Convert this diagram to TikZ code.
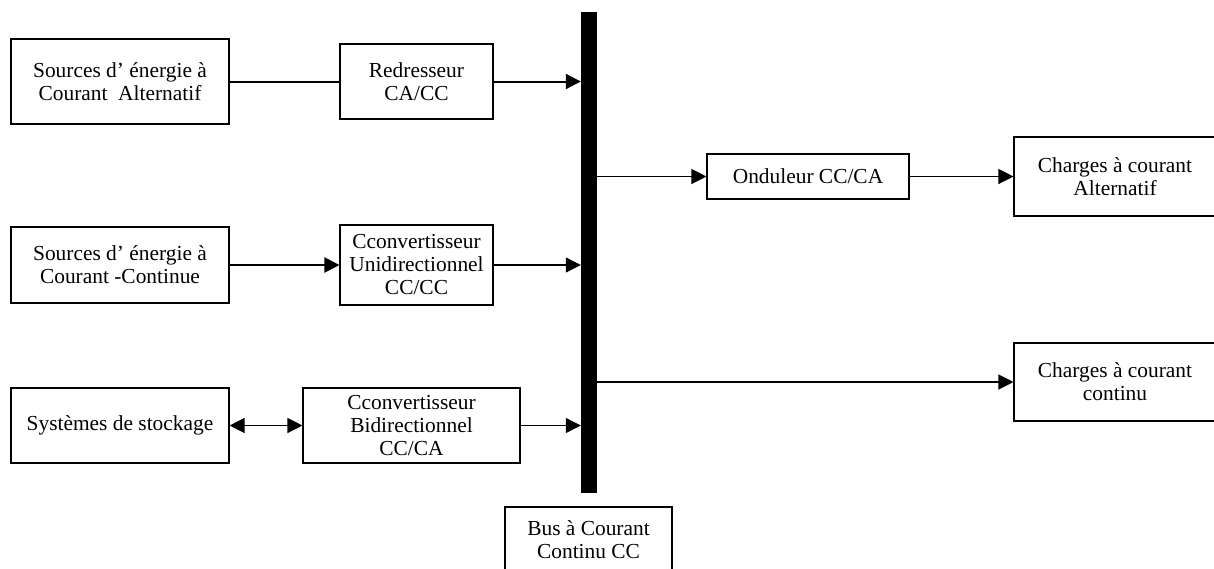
\documentclass[tikz,border=0pt]{standalone}
\usepackage{fontspec}
\setmainfont{Liberation Serif}
\usetikzlibrary{arrows.meta}
\begin{document}
\begin{tikzpicture}[x=1pt,y=-1pt,
  >={Triangle[length=15pt,width=15pt]},
  blk/.style={draw, line width=1.1pt, align=center, inner sep=0pt,
    font=\fontsize{21.4}{23}\selectfont},
  conn/.style={line width=1.2pt, ->},
  heavy/.style={line width=2pt},
  busbar/.style={fill=black, inner sep=0pt, minimum width=16pt, minimum height=481pt}
]
\useasboundingbox (0,0) rectangle (1214,568);
\clip (0,0) rectangle (1214,568);

% sources and converters
\node[blk, minimum width=218pt, minimum height=85pt] (acsrc) at (120,81.5)
  {Sources d’ énergie à\\Courant~~Alternatif};
\node[blk, minimum width=153pt, minimum height=75pt] (redr) at (416.5,81.5)
  {Redresseur\\CA/CC};
\node[blk, minimum width=218pt, minimum height=76pt] (dcsrc) at (120,265)
  {Sources d’ énergie à\\Courant -Continue};
\node[blk, minimum width=153pt, minimum height=80pt] (uni) at (416.5,265)
  {Cconvertisseur\\Unidirectionnel\\CC/CC};
\node[blk, minimum width=218pt, minimum height=75pt] (store) at (120,425.5)
  {Systèmes de stockage};
\node[blk, minimum width=217pt, minimum height=75pt] (bidir) at (411.5,425.5)
  {Cconvertisseur\\Bidirectionnel\\CC/CA};

% DC bus bar and its label (box runs past the lower edge)
\node[busbar] (bus) at (589,252.5) {};
\node[blk, minimum width=167pt, minimum height=66pt] (buslbl) at (588.5,540)
  {Bus à Courant\\Continu CC};

% loads side
\node[blk, minimum width=202pt, minimum height=45pt] (ond) at (808,176.5)
  {Onduleur CC/CA};
\node[blk, minimum width=202pt, minimum height=79pt] (acload) at (1115,176.5)
  {Charges à courant\\Alternatif};
\node[blk, minimum width=202pt, minimum height=78pt] (dcload) at (1115,382)
  {Charges à courant\\continu};

% connectors
\draw[heavy] (acsrc.east) -- (redr.west);
\draw[conn, heavy] (redr.east) -- (redr.east -| bus.west);
\draw[conn, heavy] (dcsrc.east) -- (uni.west);
\draw[conn] (uni.east) -- (uni.east -| bus.west);
\draw[conn, <->] (store.east) -- (bidir.west);
\draw[conn] (bidir.east) -- (bidir.east -| bus.west);
\draw[conn] (bus.east |- ond.west) -- (ond.west);
\draw[conn] (ond.east) -- (acload.west);
\draw[conn] (bus.east |- dcload.west) -- (dcload.west);
\end{tikzpicture}
\end{document}
